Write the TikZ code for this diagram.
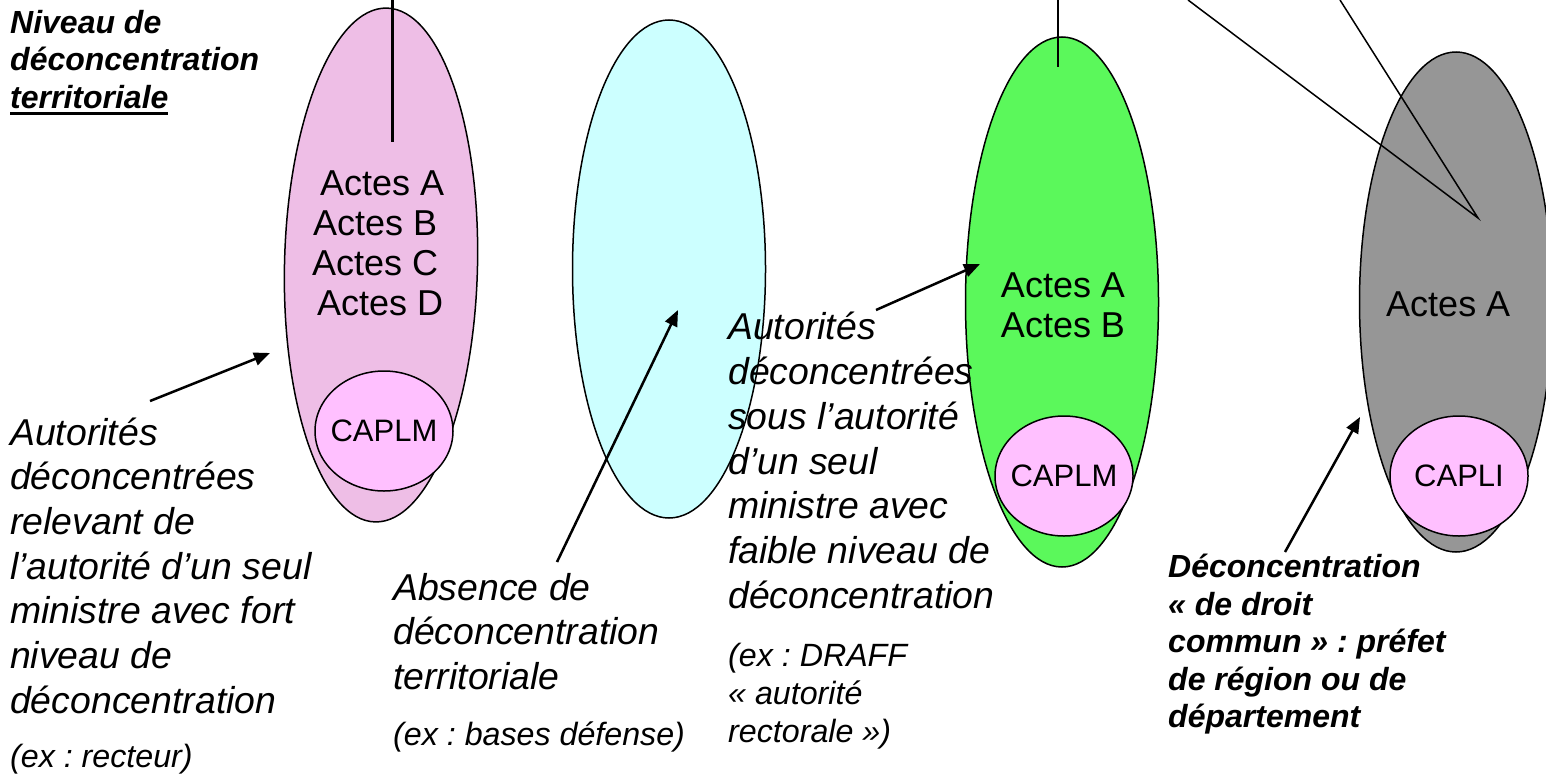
\documentclass[tikz,border=0pt]{standalone}
\usepackage{fontspec}
\setmainfont{Liberation Sans}
\usetikzlibrary{arrows.meta,shapes.geometric}
\definecolor{pinkfill}{HTML}{EEBEE6}
\definecolor{capfill}{HTML}{FFC0FF}
\definecolor{cyanfill}{HTML}{CCFFFF}
\definecolor{greenfill}{HTML}{5BF85B}
\definecolor{greyfill}{HTML}{969696}
\newcommand\topstrut{\rule{0pt}{0.85em}}
\newcommand\myuline[1]{\setbox0\hbox{#1}\rlap{\rule[-0.2em]{\wd0}{0.075em}}\box0}
\frenchspacing
\begin{document}
\begin{tikzpicture}[x=1pt,y=-1pt,
  bigell/.style={ellipse, draw=black, line width=1.5pt, inner sep=0pt, minimum width=193pt},
  capell/.style={ellipse, draw=black, line width=1.5pt, fill=capfill, inner sep=0pt, minimum width=138pt, minimum height=120pt, font=\fontsize{31}{36}\selectfont},
  maintxt/.style={anchor=north west, inner sep=0pt, align=left, font=\fontsize{37.4}{44.7}\selectfont\itshape},
  smalltxt/.style={anchor=north west, inner sep=0pt, align=left, font=\fontsize{32.2}{38.2}\selectfont\itshape},
  boldtxt/.style={anchor=north west, inner sep=0pt, align=left, font=\fontsize{32}{37.6}\selectfont\bfseries\itshape},
  actes/.style={inner sep=0pt, font=\fontsize{36}{40}\selectfont},
  arrowline/.style={line width=2.5pt, -{Triangle[length=16pt,width=13pt]}},
  thinline/.style={line width=1.5pt},
  thickline/.style={line width=3pt},
]
\useasboundingbox (0,0) rectangle (1546,779);
\fill[white] (0,0) rectangle (1546,779);

% big ellipses
\node[bigell, fill=pinkfill, minimum height=514pt, rotate=-1.3] (pinkE) at (381,265) {};
\node[bigell, fill=cyanfill, minimum height=498pt] (cyanE) at (669,269) {};
\node[bigell, fill=greenfill, minimum height=530pt] (greenE) at (1062,302) {};
\node[bigell, fill=greyfill, minimum height=500pt] (greyE) at (1456,302) {};

% CAP circles
\node[capell] (capP) at (384,431) {\makebox[0pt]{CAPLM}};
\node[capell] (capG) at (1064,476) {\makebox[0pt]{CAPLM}};
\node[capell] (capI) at (1459,476) {\makebox[0pt]{CAPLI}};

% Actes texts
\node[actes, anchor=north west, align=left] (actesP) at (312,164.4)
  {\topstrut\hspace*{8pt}Actes A\\\hspace*{1pt}Actes B\\Actes C\\\hspace*{5pt}Actes D};
\node[actes, anchor=north, align=center] (actesG) at (1063,266.4) {\topstrut Actes A\\Actes B};
\node[actes, anchor=base west] (actesI) at (1386,316) {Actes A};

% top lines
\coordinate (pl1) at (392,0);
\coordinate (pl2) at (392,142);
\draw[thickline] (pl1) -- (pl2);
\coordinate (gl1) at (1058,0);
\coordinate (gl2) at (1058,67);
\draw[thinline] (gl1) -- (gl2);
\coordinate (xl1) at (1188,0);
\coordinate (xl2) at (1340,0);
\coordinate (xtip) at (1478,218);
\draw[thinline] (xl1) -- (xtip) -- (xl2);

% texts
\node[boldtxt] (niveau) at (10,5.8) {\topstrut Niveau de\\déconcentration\\\myuline{territoriale}};
\node[maintxt] (leftT) at (10,413) {\topstrut Autorités\\déconcentrées\\relevant de\\l’autorité d’un seul\\ministre avec fort\\niveau de\\déconcentration};
\node[smalltxt, anchor=base west] (leftEx) at (10,767) {(ex : recteur)};
\node[maintxt] (midT) at (393,568) {\topstrut Absence de\\déconcentration\\territoriale};
\node[smalltxt, anchor=base west] (midEx) at (393,745) {(ex : bases défense)};
\node[maintxt] (rightT) at (728,308) {\topstrut Autorités\\déconcentrées\\sous l’autorité\\d’un seul\\ministre avec\\faible niveau de\\déconcentration};
\node[smalltxt] (rightEx) at (728,639) {\topstrut(ex : DRAFF\\« autorité\\rectorale »)};
\node[boldtxt] (droitT) at (1168,550) {\topstrut Déconcentration\\« de droit\\commun » : préfet\\de région ou de\\département};

% arrows
\coordinate (a1s) at (150,401);
\coordinate (a1e) at (270,353);
\draw[arrowline] (a1s) -- (a1e);
\coordinate (a2s) at (557,562);
\coordinate (a2e) at (678,310);
\draw[arrowline] (a2s) -- (a2e);
\coordinate (a3s) at (876,310);
\coordinate (a3e) at (980,264);
\draw[arrowline] (a3s) -- (a3e);
\coordinate (a4s) at (1285,552);
\coordinate (a4e) at (1360,417);
\draw[arrowline] (a4s) -- (a4e);
\end{tikzpicture}
\end{document}
